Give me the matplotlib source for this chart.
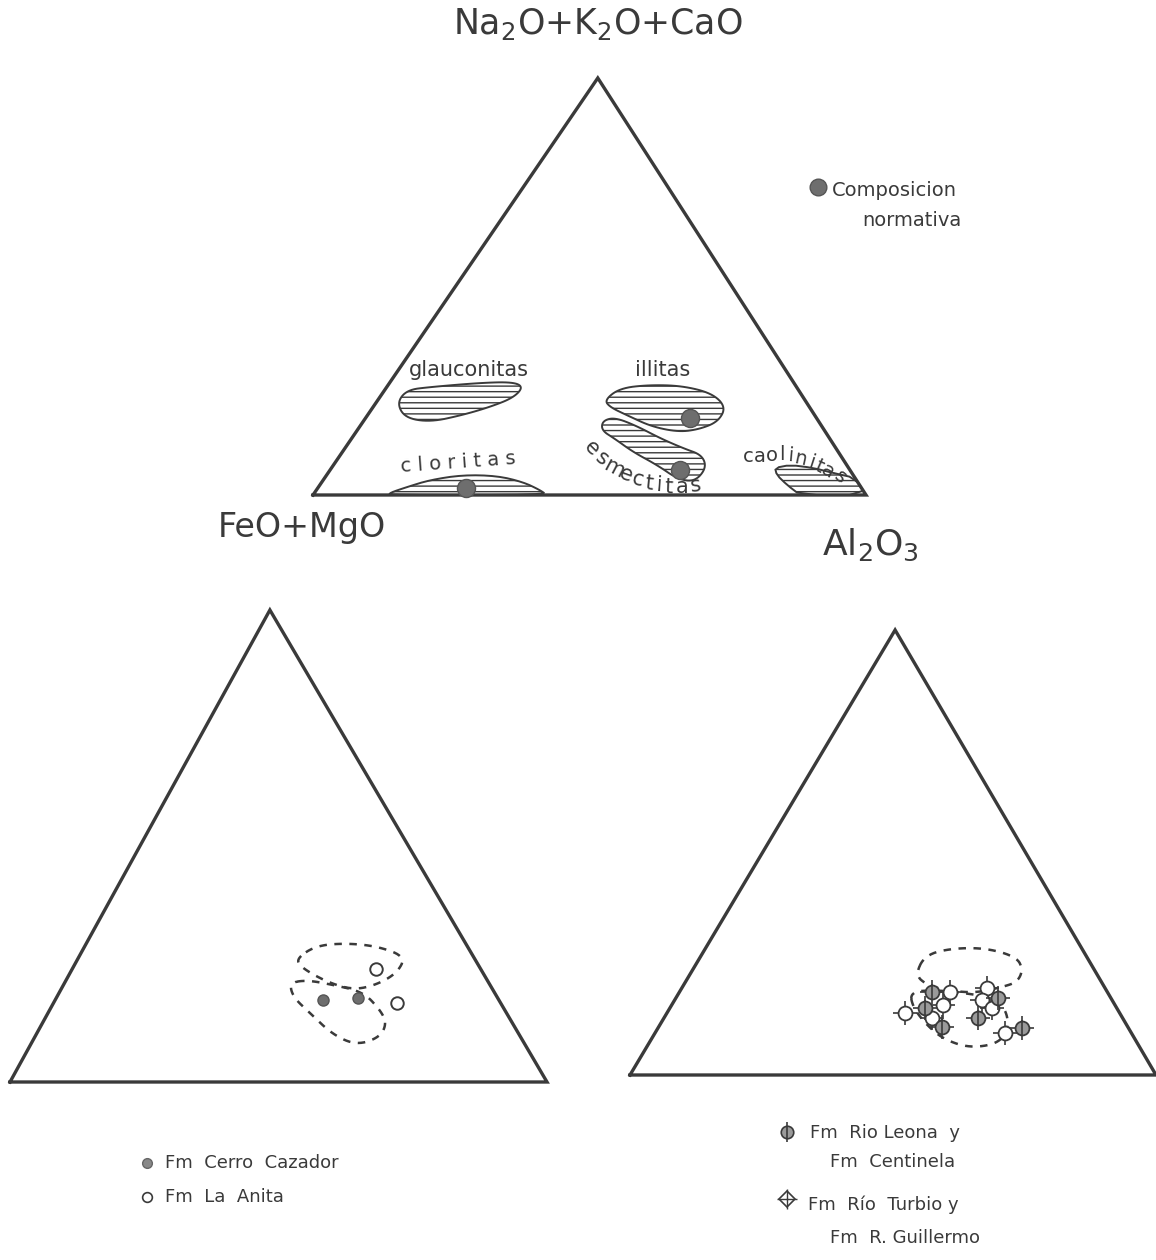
import numpy as np
import matplotlib
matplotlib.use("Agg")
import matplotlib.pyplot as plt
from matplotlib.patches import Polygon

W, H = 1156, 1260
INK = "#3a3a3a"
plt.rcParams["font.family"] = ["DejaVu Sans"]
plt.rcParams["hatch.linewidth"] = 1.0
plt.rcParams["hatch.color"] = INK

# ---------------- data (percent: Na2O+K2O+CaO , Al2O3 ; FeO+MgO = rest) ----
# reference fields, top diagram
glauc_alk = [22.1, 25.2, 25.9, 26.9, 27.1, 25.9, 23.3, 21.1, 19.2, 17.5, 18.5]
glauc_al = [3.8, 4.0, 7.9, 16.4, 22.2, 24.7, 24.2, 21.1, 17.2, 12.2, 7.1]
illi_alk = [22.8, 25.6, 26.4, 26.2, 24.4, 21.1, 17.6, 15.8, 15.1, 16.4, 19.0, 21.1]
illi_al = [41.0, 42.3, 47.1, 53.2, 59.6, 63.8, 64.2, 61.8, 58.4, 52.8, 47.2, 42.8]
esme_alk = [17.8, 18.6, 16.6, 13.6, 11.2, 9.6, 6.5, 3.2, 3.8, 7.2, 10.3, 13.5, 15.5]
esme_al = [43.2, 45.0, 49.9, 55.8, 61.2, 65.4, 67.8, 67.4, 64.0, 58.5, 52.6, 47.6, 44.2]
clor_alk = [0.0, 0.5, 1.9, 3.6, 4.8, 4.6, 3.1, 1.2, 0.0]
clor_al = [13.9, 13.6, 16.0, 19.3, 24.6, 30.9, 36.4, 40.4, 42.3]
caol_alk = [6.5, 7.2, 6.5, 5.3, 4.1, 0.0, 0.0, 2.4, 4.8]
caol_al = [80.2, 82.6, 87.1, 91.3, 95.9, 100.0, 88.1, 84.5, 81.4]
# normative compositions (illitas, esmectitas, cloritas)
norm_alk = [18.5, 6.0, 1.7]
norm_al = [58.7, 63.3, 26.8]

# bottom-left diagram
cc_alk = [17.4, 17.8]          # Fm Cerro Cazador
cc_al = [49.9, 56.2]
la_alk = [23.9, 16.7]          # Fm La Anita
la_al = [56.6, 64.0]
bl_up_alk = [26.3, 29.0, 29.4, 28.6, 26.5, 23.1, 20.6, 19.5, 21.2, 24.4]
bl_up_al = [40.7, 43.2, 49.1, 55.1, 60.8, 60.9, 58.3, 54.5, 48.7, 42.2]
bl_lo_alk = [21.0, 21.6, 20.6, 19.1, 15.3, 12.5, 9.5, 7.8, 10.0, 14.6, 18.0]
bl_lo_al = [41.9, 44.8, 50.1, 56.5, 61.5, 64.1, 64.3, 60.8, 55.3, 48.8, 44.0]

# bottom-right diagram
rl_alk = [18.7, 15.1, 10.8, 17.3, 12.8, 10.6]        # Fm Rio Leona y Fm Centinela
rl_al = [48.0, 48.5, 53.9, 61.3, 59.8, 69.2]
rt_alk = [18.7, 13.9, 15.7, 12.8, 19.6, 16.9, 15.1, 9.4]   # Fm Rio Turbio y Fm R. Guillermo
rt_al = [51.4, 45.3, 51.6, 50.9, 58.0, 58.4, 61.2, 66.6]
br_up_alk = [22.5, 27.0, 28.5, 28.5, 26.5, 23.6, 20.9, 19.8, 18.4, 19.1, 20.2]
br_up_al = [42.9, 42.5, 47.0, 53.5, 60.2, 62.8, 63.1, 60.9, 56.3, 50.3, 46.3]
br_lo_alk = [18.7, 15.1, 10.8, 7.9, 6.1, 7.0, 10.1, 14.2, 17.3, 18.4, 19.1]
br_lo_al = [43.8, 46.2, 51.3, 55.9, 61.5, 66.3, 66.8, 64.5, 60.7, 54.4, 48.4]


def tern(alk, al, apex):
    a = np.asarray(alk) / 100.0
    return np.asarray(al) / 100.0 + a * apex, a


def smooth(x, y, n=3):
    p = np.column_stack([x, y])
    for _ in range(n):
        q = np.roll(p, -1, axis=0)
        p = np.column_stack([0.75 * p + 0.25 * q, 0.25 * p + 0.75 * q]).reshape(-1, 2)
    return p


def panel(rect, apex):
    ax = fig.add_axes(rect)
    ax.set_xlim(0, 1)
    ax.set_ylim(0, 1)
    ax.axis("off")
    ax.plot([0, apex, 1, 0], [0, 1, 0, 0], color=INK, lw=2.4,
            solid_joinstyle="miter", clip_on=False)
    return ax


def ftext(px, py, s, **kw):
    kw.setdefault("color", INK)
    fig.text(px / W, 1 - py / H, s, **kw)


def curved(word, pts, rots, size):
    # lettering that follows the outline of a field, one glyph at a time
    for ch, (px, py), r in zip(word, pts, rots):
        ftext(px, py, ch, fontsize=size, ha="center", va="center", rotation=r)


fig = plt.figure(figsize=(W / 100, H / 100), dpi=100)
fig.patch.set_facecolor("white")

# ---------------- top diagram ----------------
AP_T = 0.515
ax = panel([313 / W, 1 - 495 / H, 553 / W, 417 / H], AP_T)
fields = [(glauc_alk, glauc_al, 3), (illi_alk, illi_al, 3), (esme_alk, esme_al, 3),
          (clor_alk, clor_al, 2), (caol_alk, caol_al, 1)]
for alk, al, ns in fields:
    x, y = tern(alk, al, AP_T)
    ax.add_patch(Polygon(smooth(x, y, ns), closed=True, facecolor="none",
                         edgecolor=INK, lw=1.4, hatch="---", clip_on=False))
x, y = tern(norm_alk, norm_al, AP_T)
ax.plot(x, y, "o", ms=13, mfc="#6e6e6e", mec="#555", clip_on=False)

ftext(598, 24, r"Na$_2$O+K$_2$O+CaO", fontsize=25, ha="center", va="center")
ftext(218, 527, "FeO+MgO", fontsize=24, ha="left", va="center")
ftext(822, 545, r"Al$_2$O$_3$", fontsize=26, ha="left", va="center")
ftext(469, 370, "glauconitas", fontsize=15, ha="center", va="center")
ftext(663, 370, "illitas", fontsize=15, ha="center", va="center")
ftext(458, 462, "c l o r i t a s", fontsize=14, ha="center", va="center", rotation=4)
curved("esmectitas",
       [(592, 448), (602, 459), (614, 468), (626, 475), (638, 480),
        (649, 483), (659, 485), (669, 487), (682, 487), (696, 485)],
       [-45, -38, -28, -20, -14, -6, -4, -2, 0, 6], 15)
curved("caolinitas",
       [(748, 456), (760, 456), (772, 455), (782, 454), (790, 456),
        (800, 459), (811, 463), (819, 467), (828, 471), (840, 477)],
       [0, 0, 0, 0, -5, -12, -18, -24, -30, -40], 14)

fig.add_artist(plt.Line2D([818 / W], [1 - 187 / H], marker="o", ms=12,
                          mfc="#6e6e6e", mec="#555"))
ftext(832, 190, "Composicion", fontsize=14, ha="left", va="center")
ftext(862, 221, "normativa", fontsize=14, ha="left", va="center")

# ---------------- bottom-left diagram ----------------
AP_L = 0.484
ax = panel([10 / W, 1 - 1082 / H, 537 / W, 472 / H], AP_L)
for alk, al in [(bl_up_alk, bl_up_al), (bl_lo_alk, bl_lo_al)]:
    x, y = tern(alk, al, AP_L)
    p = smooth(x, y)
    p = np.vstack([p, p[:1]])
    ax.plot(p[:, 0], p[:, 1], color=INK, lw=1.8, ls=(0, (3, 3)))
x, y = tern(cc_alk, cc_al, AP_L)
ax.plot(x, y, "o", ms=8, mfc="#6e6e6e", mec="#555")
x, y = tern(la_alk, la_al, AP_L)
ax.plot(x, y, "o", ms=9, mfc="white", mec=INK, mew=1.4)

fig.add_artist(plt.Line2D([147 / W], [1 - 1163 / H], marker="o", ms=7,
                          mfc="#888", mec="#666"))
fig.add_artist(plt.Line2D([147 / W], [1 - 1197 / H], marker="o", ms=7,
                          mfc="white", mec=INK, mew=1.2))
ftext(165, 1163, "Fm  Cerro  Cazador", fontsize=13, ha="left", va="center")
ftext(165, 1197, "Fm  La  Anita", fontsize=13, ha="left", va="center")

# ---------------- bottom-right diagram ----------------
AP_R = 0.504
ax = panel([630 / W, 1 - 1075 / H, 526 / W, 445 / H], AP_R)
for alk, al in [(br_up_alk, br_up_al), (br_lo_alk, br_lo_al)]:
    x, y = tern(alk, al, AP_R)
    p = smooth(x, y)
    p = np.vstack([p, p[:1]])
    ax.plot(p[:, 0], p[:, 1], color=INK, lw=1.8, ls=(0, (3, 3)))
x, y = tern(rt_alk, rt_al, AP_R)
ax.plot(x, y, "+", ms=17, mec=INK, mew=1.2)
ax.plot(x, y, "o", ms=10, mfc="white", mec=INK, mew=1.3)
x, y = tern(rl_alk, rl_al, AP_R)
ax.plot(x, y, "+", ms=17, mec=INK, mew=1.2)
ax.plot(x, y, "o", ms=10, mfc="#9a9a9a", mec=INK, mew=1.3)
ax.plot(x, y, "|", ms=12, mec=INK, mew=1.2)

fig.add_artist(plt.Line2D([787 / W], [1 - 1132 / H], marker="o", ms=9,
                          mfc="#9a9a9a", mec=INK, mew=1.2))
fig.add_artist(plt.Line2D([787 / W], [1 - 1132 / H], marker="|", ms=15,
                          mec=INK, mew=1.2))
fig.add_artist(plt.Line2D([787 / W], [1 - 1199 / H], marker="D", ms=8,
                          mfc="white", mec=INK, mew=1.2))
fig.add_artist(plt.Line2D([787 / W], [1 - 1199 / H], marker="+", ms=14,
                          mec=INK, mew=1.0))
ftext(810, 1133, "Fm  Rio Leona  y", fontsize=13, ha="left", va="center")
ftext(830, 1162, "Fm  Centinela", fontsize=13, ha="left", va="center")
ftext(808, 1205, "Fm  Río  Turbio y", fontsize=13, ha="left", va="center")
ftext(830, 1238, "Fm  R. Guillermo", fontsize=13, ha="left", va="center")

fig.savefig("out.png", dpi=100, facecolor="white")
